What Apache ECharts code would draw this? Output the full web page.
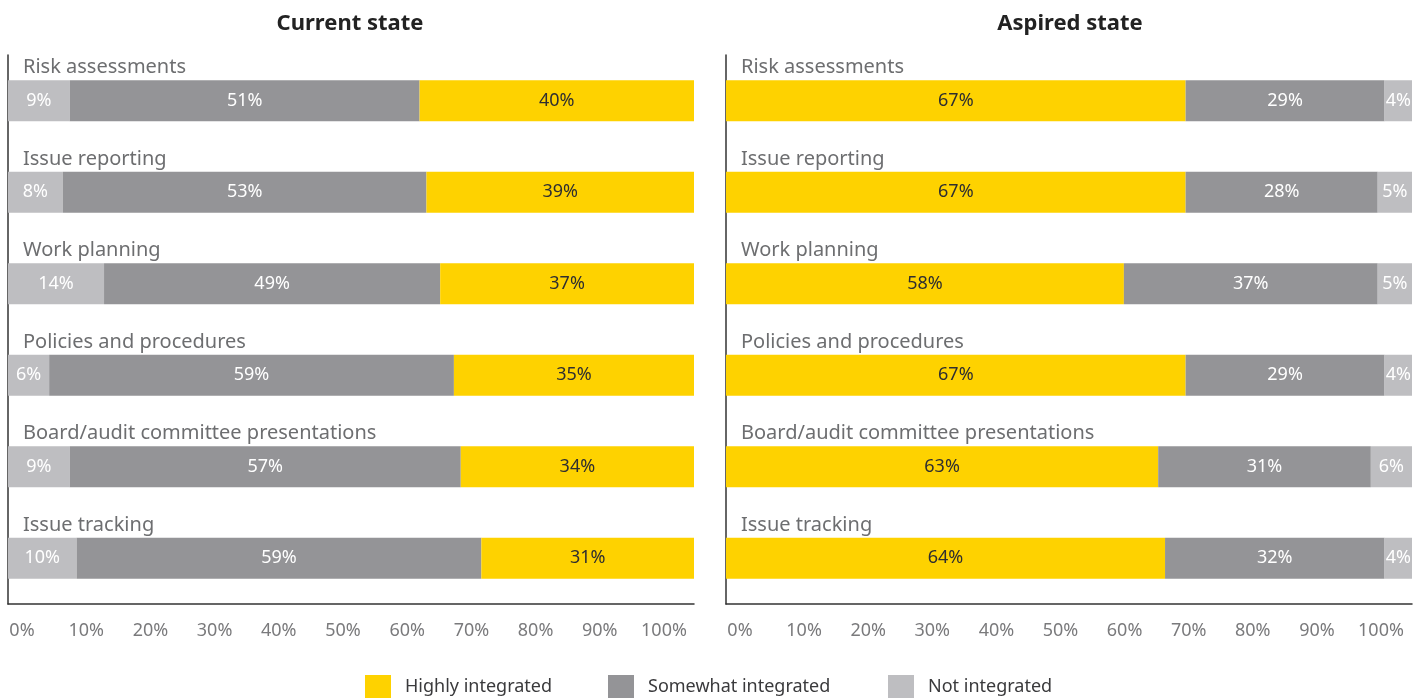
<!DOCTYPE html>
<html>
<head>
<meta charset="utf-8">
<script src="https://cdn.jsdelivr.net/npm/echarts@6/dist/echarts.min.js"></script>
<style>
html,body{margin:0;padding:0;background:#fff;}
#chart{width:1424px;height:698px;}
</style>
</head>
<body>
<div id="chart"></div>
<script>
const categories = ['Risk assessments','Issue reporting','Work planning','Policies and procedures','Board/audit committee presentations','Issue tracking'];
const tickLabels = ['0%','10%','20%','30%','40%','50%','60%','70%','80%','90%','100%'];
const currentNot = [9,8,14,6,9,10];
const currentSomewhat = [51,53,49,59,57,59];
const currentHighly = [40,39,37,35,34,31];
const aspiredHighly = [67,67,58,67,63,64];
const aspiredSomewhat = [29,28,37,29,31,32];
const aspiredNot = [4,5,5,4,6,4];
const panelTitles = ['Current state','Aspired state'];
const seriesNames = ['Highly integrated','Somewhat integrated','Not integrated'];

const FONT = 'Noto Sans';
const C_HIGH = '#FED200', C_SOME = '#949497', C_NOT = '#BEBEC1';
const colorOf = {'Highly integrated':C_HIGH,'Somewhat integrated':C_SOME,'Not integrated':C_NOT};

const chart = echarts.init(document.getElementById('chart'));
const gridTop = 55, gridBottom = 94;

function barSeries(name, data, idx){
  return {
    name, type:'bar', stack:'s'+idx, data,
    xAxisIndex: idx, yAxisIndex: idx,
    barWidth: 41,
    itemStyle:{color: colorOf[name]},
    label:{show:true, position:'inside', formatter:'{c}%', fontFamily:FONT, fontSize:18,
      color: name==='Highly integrated' ? '#2e2e30' : '#ffffff'},
    emphasis:{disabled:true}
  };
}

const option = {
  animation:false,
  backgroundColor:'#ffffff',
  title: panelTitles.map((t,i)=>({
    text:t, left: i===0 ? 350 : 1070, top: 13, textAlign:'center', padding:0,
    textStyle:{fontFamily:FONT, fontWeight:'bold', fontSize:22, color:'#222222'}
  })),
  legend: seriesNames.map((n,i)=>({
    data:[n], left:[365,608,888][i], top:675, itemWidth:26, itemHeight:24, itemGap:0,
    icon:'rect', selectedMode:false, padding:0,
    textStyle:{fontFamily:FONT, fontSize:18, color:'#3a3a3c', padding:[8,0,0,9]}
  })),
  grid:[
    {left:8, width:686, top:gridTop, bottom:gridBottom},
    {left:726, width:686, top:gridTop, bottom:gridBottom},
    {left:22, width:642, top:gridTop, bottom:gridBottom},
    {left:740, width:641, top:gridTop, bottom:gridBottom}
  ],
  xAxis:[0,1].map(i=>({
    gridIndex:i, type:'value', min:0, max:100,
    axisLine:{show:true, onZero:false, lineStyle:{color:'#333333', width:1.5}},
    axisTick:{show:false}, axisLabel:{show:false}, splitLine:{show:false}
  })).concat([2,3].map(i=>({
    gridIndex:i, type:'category', data:tickLabels, boundaryGap:false,
    axisLine:{show:false}, axisTick:{show:false}, splitLine:{show:false},
    axisLabel:{show:true, interval:0, margin:18, fontFamily:FONT, fontSize:18, color:'#7a7a7c'}
  }))),
  yAxis:[0,1].map(i=>({
    gridIndex:i, type:'category', data:categories, inverse:true,
    axisLine:{show:true, lineStyle:{color:'#333333', width:1.5}},
    axisTick:{show:false},
    axisLabel:{show:true, inside:true, margin:15, align:'left', verticalAlign:'bottom',
      padding:[0,0,23,0], fontFamily:FONT, fontSize:20, color:'#6d6e70'}
  })).concat([2,3].map(i=>({
    gridIndex:i, type:'value', show:false
  }))),
  series:[
    barSeries('Not integrated', currentNot, 0),
    barSeries('Somewhat integrated', currentSomewhat, 0),
    barSeries('Highly integrated', currentHighly, 0),
    barSeries('Highly integrated', aspiredHighly, 1),
    barSeries('Somewhat integrated', aspiredSomewhat, 1),
    barSeries('Not integrated', aspiredNot, 1)
  ]
};
chart.setOption(option);
</script>
</body>
</html>
